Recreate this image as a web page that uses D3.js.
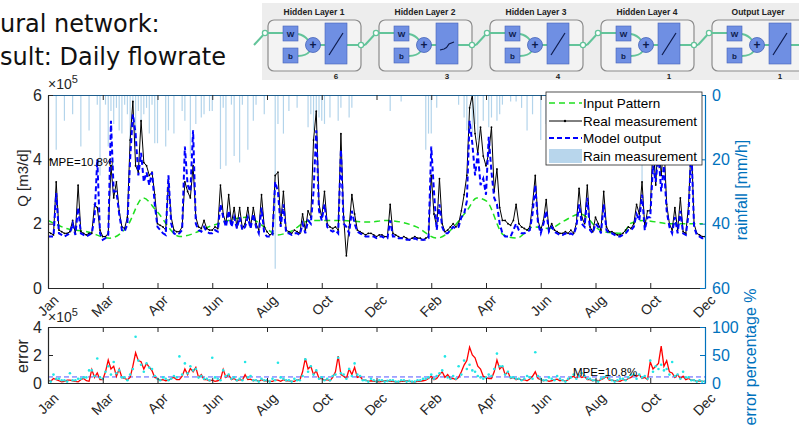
<!DOCTYPE html>
<html><head><meta charset="utf-8">
<script src="https://cdn.jsdelivr.net/npm/d3@7"></script>
<style>body{margin:0;background:#fff}svg{display:block}</style>
</head><body><svg id="c" width="799" height="425"></svg>
<script>
// ---------- data ----------
const monthLabels = ["Jan","Mar","Apr","Jun","Aug","Oct","Dec","Feb","Apr","Jun","Aug","Oct","Dec"];
// Daily flowrate sampled every ~3 days (20 samples per tick interval), x10^5 m3/d
const realQ = [
1.75,1.7,1.65,3.3,1.8,1.75,1.7,1.7,1.75,2.1,1.7,3.2,1.75,1.7,1.65,1.7,1.7,2.6,2.5,1.8,
1.6,1.6,1.7,3.8,2.8,3.3,2.4,1.9,1.85,2.2,4.6,5.8,3.8,3.6,5.2,3.9,3.8,3.5,3.6,2.9,
2.0,1.95,1.9,1.8,3.3,2.2,1.8,1.75,1.75,1.9,3.3,3.0,2.8,3.8,2.2,1.9,1.85,2.1,1.85,1.8,
1.8,1.9,1.85,3.2,2.3,2.0,2.9,2.0,2.5,1.9,2.5,1.85,2.0,2.5,1.9,2.5,2.0,1.8,2.9,1.9,
1.75,1.65,1.7,3.5,3.6,2.0,3.0,1.8,1.75,1.7,1.8,1.75,1.7,2.3,1.8,2.4,2.2,4.6,5.5,2.6,
2.2,3.0,2.0,1.9,1.85,1.9,1.8,4.8,2.2,1.0,1.9,2.9,2.3,1.8,1.75,1.7,1.65,1.7,1.7,1.65,
1.6,1.65,1.65,1.6,1.6,2.6,1.7,1.65,1.6,1.55,1.6,1.55,1.5,1.55,1.6,1.55,1.55,1.5,1.55,1.6,
3.5,2.3,1.9,3.4,2.0,1.75,1.8,1.9,2.0,1.9,2.0,2.4,2.9,3.5,5.6,6.0,4.8,4.2,5.0,4.1,
3.8,4.2,5.0,3.0,3.7,2.5,2.1,2.1,2.0,1.95,2.1,2.6,2.0,1.9,1.85,1.8,1.9,2.6,3.5,2.1,
1.8,2.1,2.75,1.8,2.0,1.8,1.75,1.7,1.7,1.75,1.7,1.8,1.7,2.0,3.1,2.2,2.0,3.2,1.9,1.75,
2.2,2.0,1.8,3.0,1.9,1.75,1.75,1.7,1.65,1.65,1.7,1.8,1.9,1.85,2.0,2.6,2.3,3.3,1.9,2.4,
2.4,4.5,3.2,4.8,3.5,4.5,2.6,2.0,1.8,2.5,1.8,2.8,1.75,1.7,2.6,4.6,2.0,1.7,1.65,1.6,
1.6];
const modelQ = [
1.6,1.6,1.6,2.95,1.7,1.65,1.6,1.65,1.7,2.0,1.65,2.5,1.7,1.65,1.6,1.65,1.7,2.2,4.0,1.7,
1.5,1.55,1.6,5.2,3.0,3.0,2.3,1.8,1.75,2.0,4.0,5.4,4.8,3.5,4.2,3.3,3.6,3.2,3.6,2.6,
1.9,1.8,1.7,1.65,3.5,2.0,1.7,1.65,1.7,1.8,4.4,3.2,3.0,4.9,2.0,1.8,1.75,1.9,1.75,1.7,
1.7,1.8,1.75,2.6,2.2,1.9,2.4,1.9,2.2,1.85,2.2,1.8,1.9,2.2,1.85,2.3,1.9,1.7,2.5,1.7,
1.6,1.6,1.65,3.3,3.0,1.9,2.6,1.7,1.7,1.65,1.7,1.7,1.65,2.0,1.7,2.1,2.0,3.0,4.9,2.4,
2.1,2.6,1.9,1.8,1.75,1.8,1.7,4.3,2.0,1.9,1.7,2.4,2.0,1.75,1.7,1.65,1.6,1.6,1.6,1.6,
1.55,1.6,1.6,1.55,1.55,2.1,1.6,1.6,1.55,1.55,1.55,1.5,1.5,1.5,1.55,1.5,1.5,1.5,1.5,1.55,
4.4,3.0,1.8,2.6,1.9,1.7,1.7,1.8,1.9,1.85,1.9,2.2,2.3,2.7,5.2,4.5,3.5,4.2,3.2,3.4,
2.9,4.7,3.6,2.8,2.6,2.0,1.7,1.6,1.6,1.6,1.8,2.0,1.8,1.7,1.7,1.75,1.8,2.3,3.2,2.0,
1.7,2.0,2.4,1.75,1.9,1.75,1.7,1.65,1.65,1.7,1.65,1.7,1.65,1.9,2.6,2.0,1.9,2.8,1.8,1.7,
2.0,1.9,1.7,2.6,1.8,1.7,1.7,1.65,1.6,1.6,1.65,1.7,1.8,1.8,1.9,2.3,2.1,2.9,1.8,2.2,
2.2,3.8,3.3,4.2,3.0,3.8,2.4,1.9,1.7,2.2,1.7,2.4,1.7,1.65,2.3,4.4,1.9,1.65,1.6,1.55,
1.55];
// Input pattern (seasonal), position in tick units and value x10^5
const inputT = [0,0.34,0.71,1.13,1.44,1.74,1.98,2.41,3.02,3.63,3.99,4.18,4.42,4.79,5.33,5.88,6.16,6.73,7.10,7.65,7.83,8.01,8.32,8.56,8.86,9.17,9.41,9.72,10.14,10.51,10.63,10.87,11.36,11.96];
const inputQ = [2.1,1.85,1.75,1.55,1.9,2.8,2.4,1.6,1.95,2.2,1.85,1.65,1.75,2.1,2.1,2.05,2.1,1.9,1.55,2.4,2.8,2.7,1.65,1.55,1.9,1.85,2.07,2.3,1.75,1.7,2.0,2.1,2.0,2.0];
// Rain measurement mm/h, same sampling as flow
const rain = [
0,0,0,17,0,0,8,0,0,6,0,0,16,0,0,11,0,0,3,25,
0,3,16,5,9,4,11,12,3,6,15,4,16,5,8,6,4,12,3,15,
15,0,0,16,11,0,12,0,0,5,8,0,19,0,9,0,7,6,0,5,
5,0,0,23,4,22,0,3,19,0,21,3,0,17,0,8,3,0,0,6,
0,0,0,54,9,0,12,0,5,0,0,4,0,0,0,10,6,11,7,7,
8,9,0,7,0,0,8,4,0,0,7,4,0,0,0,0,0,0,0,0,
0,0,0,0,0,5,0,0,0,2,0,0,0,0,0,0,0,0,17,12,
12,0,4,0,0,0,0,0,0,0,3,0,7,11,0,12,9,14,0,8,
0,10,7,0,8,6,3,0,0,2,0,2,0,4,0,11,0,6,0,0,
14,0,9,0,6,0,0,8,0,5,0,7,0,0,10,0,6,0,8,0,
0,6,0,9,0,0,0,0,5,0,0,7,0,0,9,0,12,27,0,8,
6,10,28,0,9,6,0,0,5,0,7,0,0,4,0,9,0,0,0,0,
0];
// Error percentage %, same sampling
const errPct = [
5,3,8,6,4,2,3,5,5,4,3,2,6,8,4,3,24,10,18,6,
6,20,41,25,30,12,25,10,8,6,10,30,54,40,38,25,35,28,22,10,
8,5,6,4,5,8,10,6,6,12,25,15,26,20,28,10,15,6,6,4,
5,3,4,6,24,10,15,6,8,4,6,5,15,6,7,4,5,3,6,4,
4,3,3,5,5,3,6,4,4,3,3,6,5,20,44,25,30,15,22,8,
8,5,6,4,10,20,48,15,12,8,25,15,28,10,12,5,5,3,4,3,
3,2,3,4,4,3,3,2,2,3,3,4,3,2,2,3,3,4,5,8,
12,6,8,15,20,10,15,8,8,6,10,20,32,40,64,50,45,30,25,12,
10,8,8,20,41,25,30,15,20,8,10,6,8,5,6,4,7,12,20,8,
6,4,5,3,4,6,7,4,5,3,6,10,12,8,14,10,12,6,6,4,
5,4,6,8,12,5,5,4,4,3,6,5,8,10,15,12,15,8,10,6,
38,25,30,35,66,30,40,20,18,10,15,8,12,6,8,5,5,3,4,3,
3];
// Absolute error x10^5 m3/d, same sampling
const errAbs = [
0.2,0.1,0.6,0.3,0.3,0.2,0.2,0.1,0.7,0.2,0.2,0.3,0.3,0.4,0.4,0.9,0.9,0.5,1.75,0.4,
0.3,0.8,1.2,0.6,1.5,0.7,0.9,0.4,0.4,0.2,0.6,1.0,3.3,1.6,1.3,0.8,1.4,1.1,1.0,0.5,
0.3,0.2,0.4,0.3,0.2,0.3,0.5,0.4,1.9,0.6,1.4,0.7,1.2,0.9,1.0,0.4,0.5,0.3,0.3,0.2,
1.8,0.4,0.3,0.2,0.9,0.5,0.6,0.3,0.4,0.2,0.3,0.2,1.5,0.4,0.5,0.2,0.2,0.1,0.3,0.2,
0.2,0.1,0.3,0.2,1.45,0.4,0.3,0.2,0.2,0.1,0.3,0.2,0.2,0.5,1.7,0.8,1.2,0.6,0.9,0.3,
0.4,0.2,0.3,0.2,0.5,0.6,1.8,0.7,0.6,0.3,1.0,0.5,1.4,0.6,0.5,0.2,0.2,0.1,0.3,0.2,
0.1,0.2,0.2,0.1,0.15,0.2,0.2,0.1,0.1,0.2,0.2,0.1,0.15,0.1,0.1,0.2,0.2,0.3,0.3,0.4,
0.6,0.3,0.5,0.7,0.9,1.9,0.4,0.3,0.5,0.3,1.2,0.6,1.6,1.0,1.3,0.9,0.8,0.5,0.4,0.3,
0.4,0.6,0.5,1.0,2.1,1.2,1.2,0.6,0.8,0.4,0.4,0.3,0.3,0.2,0.3,0.5,0.4,0.3,2.2,0.5,
0.3,0.2,0.2,0.4,0.3,0.2,0.5,0.3,0.2,0.1,0.3,0.4,0.6,0.3,0.5,0.7,0.5,0.3,0.3,0.2,
0.2,0.1,0.3,0.4,0.5,0.3,0.2,0.1,0.2,0.3,0.3,0.2,0.4,0.6,0.6,0.3,0.6,0.4,0.5,0.3,
1.6,0.8,1.2,1.0,1.3,0.9,1.0,0.6,1.5,0.5,0.6,0.3,0.8,0.4,0.4,0.2,0.2,0.1,0.2,0.1,
0.1];
const qTicks = [0,2,4,6];
const rainTicks = [0,20,40,60];
const errTicks = [0,2,4];
const pctTicks = [0,50,100];
const mpe = 10.8;
const layerNames = ["Hidden Layer 1","Hidden Layer 2","Hidden Layer 3","Hidden Layer 4","Output Layer"];
const layerSizes = [6,3,4,1,1];
const legendItems = ["Input Pattern","Real measurement","Model output","Rain measurement"];

// ---------- drawing ----------
const svg = d3.select("#c");
const FONT = "'Liberation Sans', Arial, sans-serif";
const BLUEAX = "#0072BD", TXT = "#262626";
const L = 48, R = 705;
const M = {top:95, bot:288};
const E = {top:327, bot:383};

const x = d3.scaleLinear().domain([0,12]).range([L,R]);
const yQ = d3.scaleLinear().domain([0,6]).range([M.bot,M.top]);
const yRain = d3.scaleLinear().domain([0,60]).range([M.top,M.bot]);
const yE = d3.scaleLinear().domain([0,4]).range([E.bot,E.top]);
const yP = d3.scaleLinear().domain([0,100]).range([E.bot,E.top]);
const tQ = i => i/20;

// Titles (partially cut off in the source slide)
svg.append("text").attr("x",0).attr("y",32).attr("font-family","'DejaVu Sans', Verdana, sans-serif")
  .attr("font-size",24).attr("fill","#111").text("ural network:");
svg.append("text").attr("x",0).attr("y",65).attr("font-family","'DejaVu Sans', Verdana, sans-serif")
  .attr("font-size",24).attr("fill","#111").text("sult: Daily flowrate");

// Neural net diagram
const nn = svg.append("g");
nn.append("rect").attr("x",262).attr("y",3).attr("width",537).attr("height",77).attr("fill","#ededed");
const bxScale = d3.scaleLinear().domain([0,1]).range([268,379]);
const GREEN = "#63c49a", NB = "#6f8fe3", NBS = "#4563b8";
layerNames.forEach((name,i)=>{
  const bx = bxScale(i);
  const g = nn.append("g");
  g.append("text").attr("x",bx+46).attr("y",15).attr("text-anchor","middle").attr("font-family",FONT)
    .attr("font-weight","bold").attr("font-size",8.5).attr("fill","#222").text(name);
  g.append("rect").attr("x",bx).attr("y",20).attr("width",93).attr("height",51).attr("rx",6)
    .attr("fill","#f3f3f3").attr("stroke","#8c8c8c").attr("stroke-width",1.2);
  const wire = (d)=>g.append("path").attr("d",d).attr("fill","none").attr("stroke",GREEN).attr("stroke-width",2);
  wire(`M${bx-14},45 L${bx-3},33 L${bx+15},33`);
  wire(`M${bx+30},34 Q${bx+36},35 ${bx+40},40`);
  wire(`M${bx+30},56 Q${bx+38},56 ${bx+42},51`);
  wire(`M${bx+52},45 L${bx+57},45`);
  wire(`M${bx+79},45 L${bx+97},45`);
  g.append("circle").attr("cx",bx-3).attr("cy",33).attr("r",2.6).attr("fill","#fff").attr("stroke",GREEN).attr("stroke-width",1.3);
  g.append("circle").attr("cx",bx+93).attr("cy",45).attr("r",2.6).attr("fill","#fff").attr("stroke",GREEN).attr("stroke-width",1.3);
  g.append("rect").attr("x",bx+15).attr("y",26).attr("width",15).attr("height",15).attr("fill",NB).attr("stroke",NBS).attr("stroke-width",0.6);
  g.append("rect").attr("x",bx+15).attr("y",48).attr("width",15).attr("height",15).attr("fill",NB).attr("stroke",NBS).attr("stroke-width",0.6);
  g.append("text").attr("x",bx+22.5).attr("y",37).attr("text-anchor","middle").attr("font-family",FONT).attr("font-weight","bold").attr("font-size",8).attr("fill","#0d1b4d").text("W");
  g.append("text").attr("x",bx+22.5).attr("y",59).attr("text-anchor","middle").attr("font-family",FONT).attr("font-weight","bold").attr("font-size",8).attr("fill","#0d1b4d").text("b");
  g.append("circle").attr("cx",bx+45).attr("cy",45).attr("r",7.5).attr("fill",NB).attr("stroke",NBS).attr("stroke-width",0.8);
  g.append("text").attr("x",bx+45).attr("y",49).attr("text-anchor","middle").attr("font-family",FONT).attr("font-weight","bold").attr("font-size",12).attr("fill","#0d1b4d").text("+");
  g.append("rect").attr("x",bx+57).attr("y",23).attr("width",22).attr("height",41).attr("fill",NB).attr("stroke",NBS).attr("stroke-width",0.6);
  if(i===1){
    g.append("path").attr("d",`M${bx+61},50 L${bx+65},49 Q${bx+68},48 ${bx+70},44 L${bx+75},42`).attr("fill","none").attr("stroke","#0d1b4d").attr("stroke-width",1.2);
  } else {
    g.append("line").attr("x1",bx+61).attr("y1",55).attr("x2",bx+75).attr("y2",33).attr("stroke","#0d1b4d").attr("stroke-width",1.2);
  }
  g.append("text").attr("x",bx+68).attr("y",79).attr("text-anchor","middle").attr("font-family",FONT).attr("font-weight","bold").attr("font-size",8).attr("fill","#222").text(layerSizes[i]);
});

// ---------- main plot ----------
const main = svg.append("g");
const defs = svg.append("defs");
defs.append("clipPath").attr("id","clipM").append("rect").attr("x",L).attr("y",M.top).attr("width",R-L).attr("height",M.bot-M.top);

main.append("g").attr("clip-path","url(#clipM)").selectAll("line").data(rain.map((v,i)=>[i,v]).filter(d=>d[1]>0))
  .join("line").attr("x1",d=>x(tQ(d[0]))).attr("x2",d=>x(tQ(d[0])))
  .attr("y1",yRain(0)).attr("y2",d=>yRain(d[1]))
  .attr("stroke","#b3d4eb").attr("stroke-width",1.2);

const lineQ = d3.line().x(d=>x(d[0])).y(d=>yQ(d[1]));
const plotArea = main.append("g").attr("clip-path","url(#clipM)");
plotArea.append("path").datum(inputT.map((t,i)=>[t,inputQ[i]]))
  .attr("d",d3.line().x(d=>x(d[0])).y(d=>yQ(d[1])).curve(d3.curveMonotoneX)).attr("fill","none").attr("stroke","#1fe01f")
  .attr("stroke-width",1.5).attr("stroke-dasharray","6,4");
plotArea.append("path").datum(realQ.map((v,i)=>[tQ(i),v]))
  .attr("d",lineQ).attr("fill","none").attr("stroke","#000").attr("stroke-width",1);
plotArea.append("g").selectAll("circle").data(realQ).join("circle")
  .attr("cx",(d,i)=>x(tQ(i))).attr("cy",d=>yQ(d)).attr("r",0.9).attr("fill","#000");
plotArea.append("path").datum(modelQ.map((v,i)=>[tQ(i),v]))
  .attr("d",lineQ).attr("fill","none").attr("stroke","#0000ff").attr("stroke-width",2)
  .attr("stroke-dasharray","5,3");

const tickVals = d3.range(13);
const fmtInt = d3.format("d");
const axB = main.append("g").attr("transform",`translate(0,${M.bot})`)
  .call(d3.axisBottom(x).tickValues(tickVals).tickSize(-5).tickSizeOuter(0).tickFormat(i=>monthLabels[i]));
const axT = main.append("g").attr("transform",`translate(0,${M.top})`)
  .call(d3.axisTop(x).tickValues(tickVals).tickSize(-5).tickSizeOuter(0).tickFormat(""));
const axL = main.append("g").attr("transform",`translate(${L},0)`)
  .call(d3.axisLeft(yQ).tickValues(qTicks).tickSize(-5).tickSizeOuter(0).tickPadding(6).tickFormat(fmtInt));
const axR = main.append("g").attr("transform",`translate(${R},0)`)
  .call(d3.axisRight(yRain).tickValues(rainTicks).tickSize(-5).tickSizeOuter(0).tickPadding(7).tickFormat(fmtInt));

function styleAxis(g,color,fs){
  g.select(".domain").attr("stroke",color).attr("stroke-width",1.2);
  g.selectAll(".tick line").attr("stroke",color);
  g.selectAll("text").attr("font-family",FONT).attr("font-size",fs).attr("fill",color);
}
function rotLabels(g,dy){
  g.selectAll(".tick text").attr("y",0).attr("x",0).attr("dy","0")
   .attr("text-anchor","end").attr("transform",`translate(11,${dy}) rotate(-45)`);
}
styleAxis(axB,TXT,14); rotLabels(axB,13);
styleAxis(axT,TXT,14);
axT.select(".domain").attr("stroke","#1f5d8c");
styleAxis(axL,TXT,16);
styleAxis(axR,BLUEAX,16);

function expLabel(yb){
  const t = svg.append("text").attr("x",48).attr("y",yb).attr("font-family",FONT).attr("font-size",14).attr("fill",TXT);
  t.append("tspan").text("\u00d710");
  t.append("tspan").attr("dy",-6).attr("font-size",11).text("5");
}
expLabel(89);
svg.append("text").attr("transform",`translate(28,178) rotate(-90)`).attr("text-anchor","middle")
  .attr("font-family",FONT).attr("font-size",15).attr("fill",TXT).text("Q [m3/d]");
svg.append("text").attr("transform",`translate(747,190) rotate(-90)`).attr("text-anchor","middle")
  .attr("font-family",FONT).attr("font-size",16).attr("fill",BLUEAX).text("rainfall [mm/h]");
svg.append("text").attr("x",49).attr("y",166).attr("font-family",FONT).attr("font-size",11.5).attr("fill","#000").text("MPE="+mpe+"%");

// legend
const lg = svg.append("g");
lg.append("rect").attr("x",546).attr("y",92).attr("width",156).attr("height",73).attr("fill","#fff").attr("stroke","#262626").attr("stroke-width",0.8);
const rowsY = [103,121,138,156];
lg.append("line").attr("x1",549).attr("x2",582).attr("y1",rowsY[0]).attr("y2",rowsY[0]).attr("stroke","#1fe01f").attr("stroke-width",1.5).attr("stroke-dasharray","6,4");
lg.append("line").attr("x1",549).attr("x2",582).attr("y1",rowsY[1]).attr("y2",rowsY[1]).attr("stroke","#000").attr("stroke-width",1);
lg.append("circle").attr("cx",565).attr("cy",rowsY[1]).attr("r",1.2).attr("fill","#000");
lg.append("line").attr("x1",549).attr("x2",582).attr("y1",rowsY[2]).attr("y2",rowsY[2]).attr("stroke","#0000ff").attr("stroke-width",2).attr("stroke-dasharray","5,3");
lg.append("rect").attr("x",549).attr("y",149).attr("width",33).attr("height",14).attr("fill","#b8d6ec");
legendItems.forEach((s,i)=>{
  lg.append("text").attr("x",583).attr("y",rowsY[i]+4.5).attr("font-family",FONT).attr("font-size",13.5).attr("fill","#000").text(s);
});

// ---------- error plot ----------
const errG = svg.append("g");
defs.append("clipPath").attr("id","clipE").append("rect").attr("x",L).attr("y",E.top-3).attr("width",R-L).attr("height",E.bot-E.top+3);
const ea = errG.append("g").attr("clip-path","url(#clipE)");
ea.append("line").attr("x1",L).attr("x2",R).attr("y1",yP(mpe)).attr("y2",yP(mpe))
  .attr("stroke","#5555ff").attr("stroke-width",1).attr("stroke-dasharray","5,3");
ea.append("path").datum(errPct.map((v,i)=>[tQ(i),v]))
  .attr("d",d3.line().x(d=>x(d[0])).y(d=>yP(d[1]))).attr("fill","none").attr("stroke","#ff0000").attr("stroke-width",1.3);
ea.append("g").selectAll("circle").data(errAbs).join("circle")
  .attr("cx",(d,i)=>x(tQ(i))).attr("cy",d=>yE(d)).attr("r",1.3).attr("fill","#22e6e6");

const eB = errG.append("g").attr("transform",`translate(0,${E.bot})`)
  .call(d3.axisBottom(x).tickValues(tickVals).tickSize(-5).tickSizeOuter(0).tickFormat(i=>monthLabels[i]));
const eT = errG.append("g").attr("transform",`translate(0,${E.top})`)
  .call(d3.axisTop(x).tickValues(tickVals).tickSize(-5).tickSizeOuter(0).tickFormat(""));
const eL = errG.append("g").attr("transform",`translate(${L},0)`)
  .call(d3.axisLeft(yE).tickValues(errTicks).tickSize(-5).tickSizeOuter(0).tickPadding(6).tickFormat(fmtInt));
const eR = errG.append("g").attr("transform",`translate(${R},0)`)
  .call(d3.axisRight(yP).tickValues(pctTicks).tickSize(-5).tickSizeOuter(0).tickPadding(7).tickFormat(fmtInt));
styleAxis(eB,TXT,14); rotLabels(eB,16);
styleAxis(eT,TXT,14);
styleAxis(eL,TXT,16);
styleAxis(eR,BLUEAX,16);
expLabel(322);
svg.append("text").attr("transform",`translate(28,356) rotate(-90)`).attr("text-anchor","middle")
  .attr("font-family",FONT).attr("font-size",16).attr("fill",TXT).text("error");
svg.append("text").attr("transform",`translate(756,357) rotate(-90)`).attr("text-anchor","middle")
  .attr("font-family",FONT).attr("font-size",16).attr("fill",BLUEAX).text("error percentage %");
svg.append("text").attr("x",573).attr("y",376).attr("font-family",FONT).attr("font-size",11.5).attr("fill","#000").text("MPE="+mpe+"%");
</script></body></html>
